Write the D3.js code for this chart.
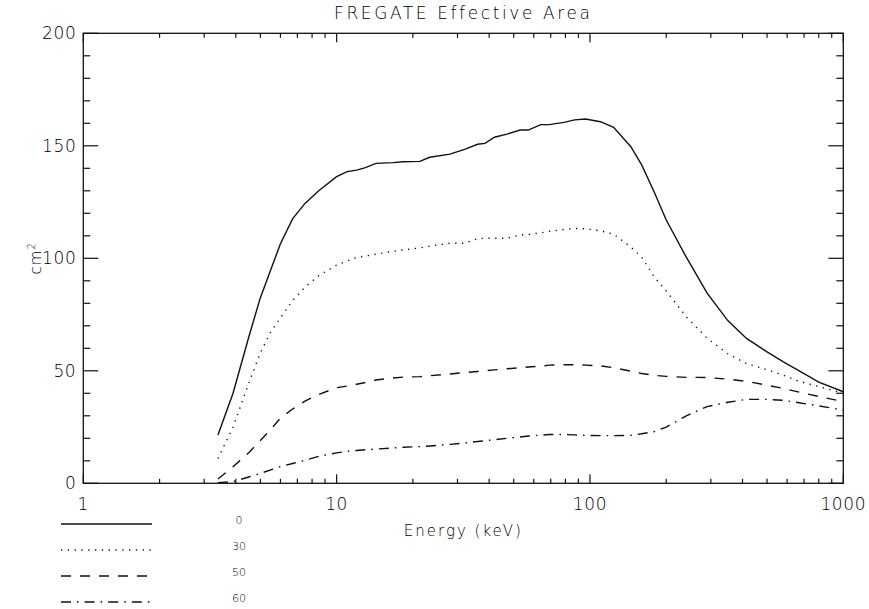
<!DOCTYPE html>
<html>
<head>
<meta charset="utf-8">
<script src="https://cdn.jsdelivr.net/npm/d3@7"></script>
<style>
  body { margin: 0; background: #fff; }
  text { font-family: "DejaVu Sans", sans-serif; fill: #000; font-weight: 200; }
</style>
</head>
<body>
<div id="chart"></div>
<script>
// energies (keV) and effective area (cm^2) per off-axis angle
const energy = [3.4, 3.9, 4.5, 5, 5.5, 6, 6.7, 7.5, 8.5, 10, 11, 12, 13, 14.3, 16.7, 18.3, 21.3, 23.3, 28, 32,
    36, 38.5, 42, 47, 53, 57, 64, 69, 79, 87, 96, 110, 124, 145, 160, 180, 200, 240, 290, 350,
    415, 500, 580, 670, 800, 1000]

const area0 = [21.5, 40, 65, 82.5, 95, 106.5, 117.5, 124.4, 130, 136.3, 138.5, 139.2, 140.3, 142.2, 142.5, 142.9, 143.1, 144.9, 146.3, 148.4,
    150.7, 151.1, 153.8, 155.2, 157, 157, 159.4, 159.4, 160.4, 161.5, 161.9, 160.7, 158.2, 149.6, 141.5, 129, 117, 100.5, 84.5, 72.3,
    64.4, 58.4, 54, 50, 45, 40.7]

const area30 = [11, 25, 44.5, 58, 67.3, 73.5, 81.2, 87.2, 92.3, 97, 98.8, 100.4, 101, 101.8, 103.1, 103.7, 104.6, 105.4, 106.7, 106.7,
    108.7, 108.9, 108.9, 108.9, 110.4, 110.6, 111.3, 112, 112.8, 113.3, 113.1, 112.2, 110.7, 105, 100.5, 91.5, 85.5, 74, 64.5, 57.6,
    53.2, 50.5, 48, 45.3, 43, 40]

const area50 = [1.9, 7.4, 13.6, 19, 24, 29, 33, 36.5, 39.5, 42.5, 43.2, 44, 44.8, 45.9, 46.8, 47.2, 47.4, 47.8, 48.6, 49.2,
    49.7, 50, 50.4, 50.9, 51.4, 51.7, 52.1, 52.5, 52.7, 52.7, 52.5, 52.2, 51.4, 49.8, 48.8, 48, 47.5, 47.1, 47, 46.3,
    45.3, 43.6, 42.2, 40.5, 38.6, 36.3]

const area60 = [0.3, 0.7, 2.8, 4.4, 6, 7.4, 8.8, 10.2, 12, 13.5, 14.2, 14.6, 14.9, 15.2, 15.7, 16, 16.3, 16.6, 17.3, 17.9,
    18.6, 18.9, 19.4, 20, 20.6, 21, 21.4, 21.7, 21.7, 21.5, 21.3, 21.2, 21.2, 21.3, 22, 23, 25, 30, 34.1, 36,
    37.3, 37.3, 36.9, 35.8, 34.4, 32.6]

const angles = ["0", "30", "50", "60"]
const xMajorTicks = [1, 10, 100, 1000]
const xTickLabels = ["1", "10", "100", "1000"]
const yMajorTicks = [0, 50, 100, 150, 200]
const yTickLabels = ["0", "50", "100", "150", "200"]

const series = [area0, area30, area50, area60]
const dashes = [null, "1.3,5.5", "10,9", "10,6,1.6,6"]

const width = 869
const height = 609
const margin = {top: 33.3, right: 25.7, bottom: 125.7, left: 83.3}
const boundedWidth = width - margin.left - margin.right
const boundedHeight = height - margin.top - margin.bottom

const svg = d3.select("#chart")
    .append("svg")
    .attr("width", width)
    .attr("height", height)

const bounds = svg.append("g")
    .attr("transform", `translate(${margin.left},${margin.top})`)

// scales
const xScale = d3.scaleLog()
    .domain([1, 1000])
    .range([0, boundedWidth])
const yScale = d3.scaleLinear()
    .domain([0, 200])
    .range([boundedHeight, 0])

// frame
bounds.append("rect")
    .attr("width", boundedWidth)
    .attr("height", boundedHeight)
    .attr("fill", "none")
    .attr("stroke", "#111")
    .attr("stroke-width", 1.3)

// x ticks, bottom and top
const xMinor = []
for (let dec = 1; dec < 1000; dec *= 10) {
    for (let k = 2; k <= 9; k++) xMinor.push(dec * k)
}
const xTicks = xMajorTicks.map(v => ({v, len: 9})).concat(xMinor.map(v => ({v, len: 4.5})))

const tickG = bounds.append("g")
    .attr("stroke", "#111")
    .attr("stroke-width", 1.2)

tickG.selectAll(".xb")
    .data(xTicks)
    .join("line")
    .attr("x1", d => xScale(d.v))
    .attr("x2", d => xScale(d.v))
    .attr("y1", boundedHeight)
    .attr("y2", d => boundedHeight - d.len)
tickG.selectAll(".xt")
    .data(xTicks)
    .join("line")
    .attr("x1", d => xScale(d.v))
    .attr("x2", d => xScale(d.v))
    .attr("y1", 0)
    .attr("y2", d => d.len)

// y ticks, left and right
const yTicks = d3.range(0, 201, 10).map(v => ({v, len: v % 50 === 0 ? 15 : 7}))
tickG.selectAll(".yl")
    .data(yTicks)
    .join("line")
    .attr("x1", 0)
    .attr("x2", d => d.len)
    .attr("y1", d => yScale(d.v))
    .attr("y2", d => yScale(d.v))
tickG.selectAll(".yr")
    .data(yTicks)
    .join("line")
    .attr("x1", boundedWidth)
    .attr("x2", d => boundedWidth - d.len)
    .attr("y1", d => yScale(d.v))
    .attr("y2", d => yScale(d.v))

// tick labels
bounds.selectAll(".xl")
    .data(xMajorTicks)
    .join("text")
    .attr("x", d => xScale(d))
    .attr("y", boundedHeight + 27)
    .attr("text-anchor", "middle")
    .attr("font-size", 17)
    .attr("letter-spacing", 0.6)
    .text((d, i) => xTickLabels[i])

bounds.selectAll(".yl")
    .data(yMajorTicks)
    .join("text")
    .attr("x", -7)
    .attr("y", d => yScale(d) + 6)
    .attr("text-anchor", "end")
    .attr("font-size", 17)
    .attr("letter-spacing", 0.6)
    .text((d, i) => yTickLabels[i])

// curves
const lineGenerator = d3.line()
    .x((d, i) => xScale(energy[i]))
    .y(d => yScale(d))

bounds.selectAll(".curve")
    .data(series)
    .join("path")
    .attr("d", d => lineGenerator(d))
    .attr("fill", "none")
    .attr("stroke", "#111")
    .attr("stroke-width", 1.4)
    .attr("stroke-dasharray", (d, i) => dashes[i])

// titles
svg.append("text")
    .attr("x", margin.left + boundedWidth / 2)
    .attr("y", 19)
    .attr("text-anchor", "middle")
    .attr("font-size", 17)
    .attr("letter-spacing", 2.6)
    .text("FREGATE Effective Area")

svg.append("text")
    .attr("x", margin.left + boundedWidth / 2)
    .attr("y", 536)
    .attr("text-anchor", "middle")
    .attr("font-size", 15)
    .attr("letter-spacing", 2)
    .text("Energy (keV)")

const yLabel = svg.append("text")
    .attr("transform", `translate(41,${margin.top + boundedHeight / 2}) rotate(-90)`)
    .attr("text-anchor", "middle")
    .attr("font-size", 15)
    .attr("letter-spacing", 1)
yLabel.append("tspan").text("cm")
yLabel.append("tspan").attr("dy", -6).attr("font-size", 10).text("2")

// legend
const legend = svg.append("g")
legend.selectAll("line")
    .data(angles)
    .join("line")
    .attr("x1", 61)
    .attr("x2", 152)
    .attr("y1", (d, i) => 524 + i * 26)
    .attr("y2", (d, i) => 524 + i * 26)
    .attr("stroke", "#111")
    .attr("stroke-width", 1.4)
    .attr("stroke-dasharray", (d, i) => dashes[i])
legend.selectAll("text")
    .data(angles)
    .join("text")
    .attr("x", 239)
    .attr("y", (d, i) => 524 + i * 26)
    .attr("text-anchor", "middle")
    .attr("font-size", 11)
    .text(d => d)
</script>
</body>
</html>
